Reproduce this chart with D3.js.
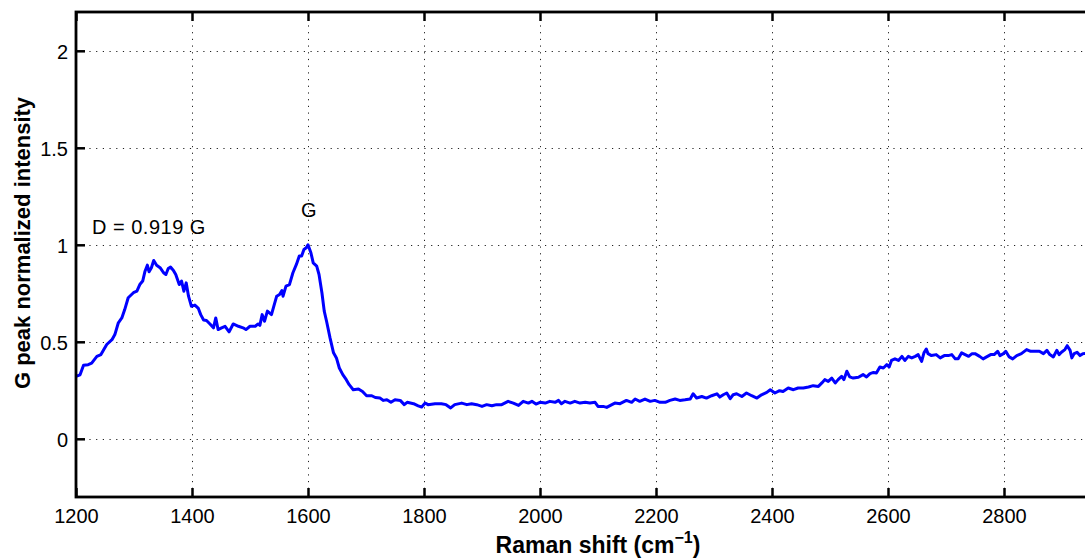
<!DOCTYPE html>
<html>
<head>
<meta charset="utf-8">
<script src="https://cdn.jsdelivr.net/npm/d3@7"></script>
<style>
  html, body { margin: 0; padding: 0; background: #fff; overflow: hidden; }
  svg { display: block; font-family: "Liberation Sans", Arial, Helvetica, sans-serif; }
</style>
</head>
<body>
<svg id="chart" width="1085" height="558"></svg>
<script>
// Raman spectrum, normalised to the G peak
const ramanShift = [
  1200,1207,1213,1221,1227,1236,1243,1247,1253,1262,1267,1273,1279,1284,1290,1299,1305,1310,1315,1319,
  1323,1326,1330,1334,1339,1345,1351,1355,1359,1363,1368,1372,1378,1382,1386,1390,1394,1399,1405,1411,
  1415,1420,1425,1431,1437,1441,1445,1451,1457,1464,1471,1480,1488,1493,1500,1509,1514,1517,1521,1525,
  1530,1537,1541,1546,1551,1555,1557,1562,1568,1574,1580,1585,1589,1593,1597,1600,1605,1609,1615,1619,
  1624,1628,1632,1638,1644,1649,1654,1660,1666,1671,1678,1687,1694,1701,1710,1716,1724,1730,1736,1743,
  1750,1759,1766,1771,1782,1790,1796,1802,1807,1819,1830,1838,1846,1853,1865,1874,1882,1891,1900,1908,
  1917,1925,1934,1945,1954,1963,1971,1980,1986,1993,2000,2009,2017,2026,2032,2037,2043,2052,2060,2069,
  2078,2086,2095,2100,2109,2115,2124,2129,2138,2149,2158,2164,2172,2181,2190,2198,2207,2216,2224,2233,
  2241,2250,2259,2264,2270,2279,2287,2296,2305,2310,2316,2322,2328,2333,2339,2348,2356,2365,2374,2382,
  2391,2397,2405,2413,2419,2428,2437,2445,2454,2463,2471,2480,2486,2491,2497,2503,2509,2514,2520,2524,
  2529,2534,2540,2549,2557,2563,2569,2575,2580,2586,2592,2598,2602,2606,2612,2618,2624,2629,2635,2641,
  2647,2652,2658,2662,2666,2669,2675,2683,2690,2697,2704,2710,2716,2721,2727,2733,2739,2745,2750,2758,
  2764,2770,2777,2783,2789,2793,2799,2803,2809,2815,2822,2830,2839,2846,2853,2861,2868,2874,2879,2885,
  2891,2895,2899,2905,2909,2914,2917,2921,2926,2931,2936,2945,2955,2965,2975,2985,2995,3000
];
const intensity = [
  0.322,0.330,0.379,0.382,0.390,0.425,0.434,0.455,0.486,0.511,0.537,0.598,0.623,0.666,0.727,0.753,0.761,0.795,0.813,0.864,
  0.895,0.861,0.882,0.919,0.895,0.882,0.856,0.847,0.878,0.885,0.868,0.847,0.795,0.813,0.761,0.804,0.735,0.683,0.689,0.672,
  0.640,0.612,0.610,0.592,0.572,0.623,0.563,0.572,0.580,0.551,0.592,0.580,0.572,0.563,0.580,0.580,0.592,0.585,0.640,0.606,
  0.658,0.640,0.683,0.735,0.744,0.764,0.735,0.787,0.795,0.856,0.899,0.942,0.942,0.976,0.985,1.000,0.959,0.907,0.890,0.847,
  0.753,0.658,0.606,0.520,0.443,0.417,0.365,0.331,0.305,0.279,0.253,0.257,0.244,0.222,0.222,0.213,0.210,0.198,0.201,0.188,
  0.201,0.198,0.176,0.188,0.181,0.170,0.164,0.184,0.176,0.181,0.181,0.176,0.159,0.176,0.184,0.176,0.181,0.176,0.167,0.176,
  0.170,0.176,0.176,0.193,0.184,0.172,0.193,0.184,0.193,0.179,0.188,0.184,0.193,0.188,0.198,0.181,0.193,0.184,0.193,0.184,
  0.188,0.184,0.188,0.167,0.167,0.162,0.176,0.184,0.181,0.198,0.188,0.205,0.193,0.205,0.193,0.198,0.188,0.188,0.198,0.205,
  0.198,0.201,0.205,0.232,0.210,0.218,0.210,0.222,0.232,0.215,0.227,0.236,0.207,0.227,0.232,0.218,0.236,0.222,0.210,0.227,
  0.239,0.253,0.236,0.248,0.244,0.262,0.253,0.262,0.262,0.267,0.274,0.270,0.288,0.305,0.296,0.313,0.288,0.305,0.322,0.305,
  0.348,0.319,0.313,0.317,0.331,0.319,0.336,0.342,0.339,0.370,0.365,0.382,0.370,0.404,0.412,0.404,0.425,0.404,0.425,0.417,
  0.425,0.434,0.399,0.443,0.463,0.439,0.429,0.434,0.417,0.429,0.429,0.434,0.412,0.412,0.443,0.434,0.425,0.439,0.439,0.425,
  0.412,0.422,0.434,0.434,0.451,0.429,0.439,0.451,0.422,0.412,0.429,0.439,0.460,0.451,0.451,0.451,0.439,0.456,0.434,0.422,
  0.456,0.434,0.446,0.460,0.480,0.456,0.417,0.439,0.446,0.429,0.439,0.442,0.447,0.431,0.440,0.446,0.436,0.440
];

const xTicks = [1200, 1400, 1600, 1800, 2000, 2200, 2400, 2600, 2800];
const yTicks = [0, 0.5, 1, 1.5, 2];
const yTickLabels = ["0", "0.5", "1", "1.5", "2"];

const xTitle = "Raman shift (cm";
const xTitleSup = "\u22121";
const yTitle = "G peak normalized intensity";
const dRatio = 0.919;
const gLabel = "G";
const dLabel = `D = ${dRatio} G`;

// plot box (the right side runs past the page edge)
const boxLeft = 76, boxRight = 1120, boxTop = 12, boxBottom = 497;

const svg = d3.select("#chart");
const x = d3.scaleLinear().domain([1200, 3000]).range([boxLeft, boxRight]);
const y = d3.scaleLinear().domain([-0.3, 2.2]).range([boxBottom, boxTop]);

// dotted grid
const grid = svg.append("g")
  .attr("stroke", "#222")
  .attr("stroke-width", 1)
  .attr("stroke-dasharray", "1.2,5.5")
  .attr("fill", "none");
grid.selectAll("line.v").data(xTicks).join("line")
  .attr("class", "v")
  .attr("x1", d => Math.round(x(d)) + 0.5).attr("x2", d => Math.round(x(d)) + 0.5)
  .attr("y1", boxTop).attr("y2", boxBottom);
grid.selectAll("line.h").data(yTicks).join("line")
  .attr("class", "h")
  .attr("y1", d => Math.round(y(d)) + 0.5).attr("y2", d => Math.round(y(d)) + 0.5)
  .attr("x1", boxLeft).attr("x2", boxRight);

// spectrum
svg.append("clipPath").attr("id", "plotClip")
  .append("rect").attr("x", boxLeft).attr("y", boxTop)
  .attr("width", boxRight - boxLeft).attr("height", boxBottom - boxTop);

const pts = ramanShift.map((v, i) => [v, intensity[i]]);
svg.append("path")
  .datum(pts)
  .attr("clip-path", "url(#plotClip)")
  .attr("fill", "none")
  .attr("stroke", "#0000ff")
  .attr("stroke-width", 3)
  .attr("stroke-linejoin", "round")
  .attr("d", d3.line().x(d => x(d[0])).y(d => y(d[1])));

// axes with inward ticks
const tickLen = 9;
const styleAxis = g => {
  g.select(".domain").remove();
  g.selectAll(".tick line").attr("stroke", "#000").attr("stroke-width", 2.5);
  g.selectAll(".tick text").attr("fill", "#000").attr("font-size", "20px");
};
svg.append("g")
  .attr("transform", `translate(0,${boxBottom})`)
  .call(d3.axisBottom(x).tickValues(xTicks).tickSizeInner(-tickLen).tickSizeOuter(0).tickPadding(12).tickFormat(d3.format("d")))
  .call(styleAxis);
svg.append("g")
  .attr("transform", `translate(0,${boxTop})`)
  .call(d3.axisTop(x).tickValues(xTicks).tickSizeInner(-tickLen).tickSizeOuter(0).tickFormat(""))
  .call(styleAxis);
svg.append("g")
  .attr("transform", `translate(${boxLeft},0)`)
  .call(d3.axisLeft(y).tickValues(yTicks).tickSizeInner(-tickLen).tickSizeOuter(0).tickPadding(8)
    .tickFormat((d, i) => yTickLabels[i]))
  .call(styleAxis)
  .call(g => g.selectAll(".tick text").attr("dy", "0.36em"));

// frame
svg.append("rect")
  .attr("x", boxLeft).attr("y", boxTop).attr("width", boxRight - boxLeft).attr("height", boxBottom - boxTop)
  .attr("fill", "none").attr("stroke", "#000").attr("stroke-width", 2.8);

// peak annotations
svg.append("text")
  .attr("x", x(1227.6)).attr("y", y(1.057))
  .attr("font-size", "20px").attr("letter-spacing", "0.5px").attr("fill", "#000")
  .text(dLabel);
svg.append("text")
  .attr("x", x(1588)).attr("y", y(1.142))
  .attr("font-size", "20px").attr("fill", "#000")
  .text(gLabel);

// axis titles
const xt = svg.append("text")
  .attr("x", (boxLeft + boxRight) / 2).attr("y", 553)
  .attr("text-anchor", "middle")
  .attr("font-size", "23px").attr("font-weight", "bold").attr("fill", "#000");
xt.append("tspan").text(xTitle);
xt.append("tspan").attr("font-size", "16px").attr("dy", "-10").text(xTitleSup);
xt.append("tspan").attr("dy", "10").text(")");

svg.append("text")
  .attr("transform", `translate(30,243) rotate(-90)`)
  .attr("text-anchor", "middle")
  .attr("font-size", "22px").attr("font-weight", "bold").attr("fill", "#000")
  .text(yTitle);
</script>
</body>
</html>
